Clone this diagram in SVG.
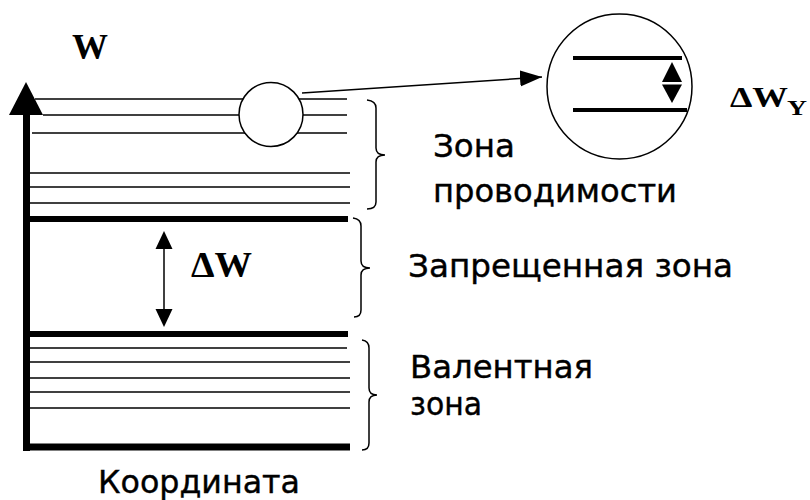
<svg xmlns="http://www.w3.org/2000/svg" width="810" height="500" viewBox="0 0 810 500">
<style>
.thin{stroke:#000;stroke-width:1.5;fill:none}
.thick{stroke:#000;stroke-width:6;fill:none}
.brace{stroke:#000;stroke-width:1.5;fill:none}
.lbl{font-family:"DejaVu Sans","Liberation Sans",Arial,sans-serif;font-size:32px;fill:#000;stroke:#000;stroke-width:0.4}
.sym{font-family:"Liberation Serif","Times New Roman",serif;font-weight:bold;fill:#000}
</style>
<defs>
<marker id="ah" markerUnits="userSpaceOnUse" markerWidth="24" markerHeight="18" refX="22" refY="8" orient="auto">
<path d="M0,0 L22,8 L0,16 Z" fill="#000"/>
</marker>
</defs>
<rect width="810" height="500" fill="#fff"/>
<g id="axis">
<line x1="26.5" y1="112" x2="26.5" y2="451" stroke="#000" stroke-width="7"/>
<polygon points="26,82 9,115 43,115" fill="#000"/>
<line x1="23" y1="447" x2="350" y2="447" stroke="#000" stroke-width="7"/>
<text class="sym" x="72" y="59" font-size="35" textLength="36" lengthAdjust="spacingAndGlyphs">W</text>
<text class="lbl" x="98" y="493" textLength="202" lengthAdjust="spacingAndGlyphs">Координата</text>
</g>
<g id="conduction-band">
<line class="thin" x1="35" y1="99" x2="347" y2="99"/>
<line class="thin" x1="43" y1="115" x2="347" y2="115"/>
<line class="thin" x1="32" y1="133" x2="347" y2="133"/>
<line class="thin" x1="30" y1="173" x2="350" y2="173"/>
<line class="thin" x1="30" y1="187" x2="350" y2="187"/>
<line class="thin" x1="30" y1="203" x2="350" y2="203"/>
<line class="thick" x1="30" y1="219" x2="348" y2="219"/>
<path class="brace" d="M367,100 Q376,101 376,108 L376,148 Q376,155 385,155 Q376,155 376,162 L376,202 Q376,209 367,209"/>
<text class="lbl" x="433" y="157" textLength="82" lengthAdjust="spacingAndGlyphs">Зона</text>
<text class="lbl" x="433" y="202" textLength="244" lengthAdjust="spacingAndGlyphs">проводимости</text>
</g>
<g id="gap">
<line class="thin" x1="164" y1="245" x2="164" y2="313"/>
<polygon points="164,231 155.5,249 172.5,249" fill="#000"/>
<polygon points="164,327 155.5,309 172.5,309" fill="#000"/>
<text class="sym" x="191" y="277" font-size="35" textLength="61" lengthAdjust="spacingAndGlyphs">ΔW</text>
<path class="brace" d="M353,218 Q361,219 361,226 L361,261 Q361,268 370,268 Q361,268 361,275 L361,310 Q361,317 354,317"/>
<text class="lbl" x="408" y="277" textLength="325" lengthAdjust="spacingAndGlyphs">Запрещенная зона</text>
</g>
<g id="valence-band">
<line class="thick" x1="30" y1="334" x2="348" y2="334"/>
<line class="thin" x1="30" y1="348" x2="347" y2="348"/>
<line class="thin" x1="30" y1="362" x2="350" y2="362"/>
<line class="thin" x1="30" y1="378" x2="350" y2="378"/>
<line class="thin" x1="30" y1="392" x2="350" y2="392"/>
<line class="thin" x1="30" y1="408" x2="350" y2="408"/>
<path class="brace" d="M362,340 Q369,341 369,348 L369,388 Q369,395 377,395 Q369,395 369,402 L369,443 Q369,450 362,450"/>
<text class="lbl" x="410" y="378" textLength="183" lengthAdjust="spacingAndGlyphs">Валентная</text>
<text class="lbl" x="410" y="415" textLength="72" lengthAdjust="spacingAndGlyphs">зона</text>
</g>
<g id="small-circle">
<circle cx="271" cy="114.5" r="32" fill="#fff" stroke="#000" stroke-width="1.5"/>
</g>
<g id="connectors">
<line class="thin" x1="302" y1="93" x2="542" y2="77" marker-end="url(#ah)"/>
</g>
<g id="zoom-circle">
<circle cx="619.5" cy="86.5" r="72.5" fill="#fff" stroke="#000" stroke-width="1.5"/>
<line x1="573" y1="58" x2="682" y2="58" stroke="#000" stroke-width="4"/>
<line x1="573" y1="110" x2="687" y2="110" stroke="#000" stroke-width="4"/>
<polygon points="672,62 662,82 682,82" fill="#000"/>
<polygon points="672,103 662,84.5 682,84.5" fill="#000"/>
<text class="sym" x="730" y="107" font-size="29" textLength="58" lengthAdjust="spacingAndGlyphs">ΔW</text>
<text class="sym" x="787" y="115" font-size="21" textLength="20" lengthAdjust="spacingAndGlyphs">Y</text>
</g>
</svg>
